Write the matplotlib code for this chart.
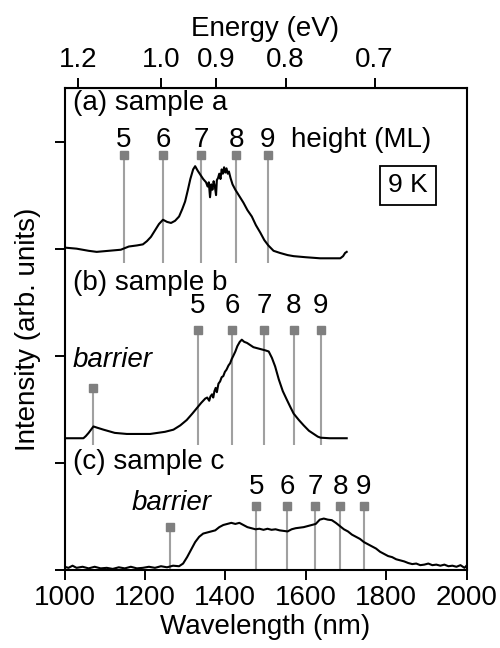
import numpy as np
import matplotlib.pyplot as plt

plt.rcParams['font.family'] = ['Liberation Sans', 'DejaVu Sans']

# spectra (wavelength nm, intensity offset-stacked)
wl_a = [1000, 1030, 1060, 1080, 1110, 1140, 1160, 1180, 1195, 1205, 1215, 1225, 1235, 1245,
        1255, 1265, 1275, 1285, 1293, 1300, 1307, 1313, 1320, 1325, 1331, 1338, 1345, 1352,
        1356, 1359, 1362, 1365, 1368, 1371, 1374, 1377, 1379, 1382, 1385, 1388, 1391, 1394,
        1397, 1400, 1403, 1406, 1409, 1413, 1418, 1425, 1435, 1445, 1455, 1466, 1476, 1487,
        1497, 1507, 1520, 1536, 1555, 1570, 1600, 1636, 1686, 1693, 1698, 1702]
int_a = [3.01, 3.00, 2.98, 2.97, 2.98, 2.99, 3.02, 3.03, 3.04, 3.07, 3.11, 3.17, 3.23, 3.27,
         3.25, 3.24, 3.26, 3.30, 3.37, 3.44, 3.55, 3.65, 3.74, 3.77, 3.73, 3.69, 3.65, 3.62,
         3.58, 3.62, 3.48, 3.60, 3.55, 3.63, 3.58, 3.50, 3.64, 3.66, 3.70, 3.65, 3.74, 3.70,
         3.76, 3.71, 3.75, 3.70, 3.72, 3.66, 3.60, 3.55, 3.49, 3.43, 3.36, 3.30, 3.22, 3.15,
         3.08, 3.03, 2.98, 2.96, 2.94, 2.93, 2.92, 2.91, 2.91, 2.93, 2.96, 2.97]

wl_b = [1000, 1047, 1053, 1060, 1066, 1072, 1080, 1097, 1125, 1155, 1213, 1250, 1271, 1288,
        1304, 1318, 1329, 1340, 1350, 1355, 1360, 1363, 1367, 1370, 1373, 1376, 1379, 1383,
        1387, 1391, 1395, 1399, 1403, 1408, 1412, 1416, 1420, 1425, 1430, 1436, 1441, 1447,
        1454, 1462, 1470, 1480, 1490, 1500, 1508, 1516, 1524, 1533, 1543, 1553, 1562, 1570,
        1583, 1595, 1608, 1620, 1630, 1637, 1660, 1702]
int_b = [1.23, 1.23, 1.25, 1.28, 1.31, 1.34, 1.33, 1.31, 1.28, 1.27, 1.27, 1.29, 1.31, 1.35,
         1.40, 1.46, 1.51, 1.56, 1.60, 1.61, 1.58, 1.62, 1.64, 1.61, 1.67, 1.70, 1.66, 1.74,
         1.76, 1.80, 1.81, 1.85, 1.87, 1.91, 1.93, 1.97, 2.00, 2.04, 2.09, 2.13, 2.15, 2.13,
         2.12, 2.10, 2.08, 2.07, 2.06, 2.05, 2.04, 1.98, 1.90, 1.78, 1.67, 1.59, 1.52, 1.46,
         1.40, 1.35, 1.30, 1.27, 1.245, 1.235, 1.23, 1.23]

wl_c = [1000, 1010, 1020, 1030, 1045, 1060, 1075, 1090, 1105, 1120, 1135, 1150, 1165, 1180,
        1195, 1210, 1225, 1240, 1255, 1270, 1285, 1295, 1305, 1315, 1325, 1335, 1345, 1355,
        1365, 1375, 1385, 1395, 1405, 1415, 1425, 1435, 1445, 1455, 1465, 1475, 1485, 1495,
        1505, 1515, 1525, 1535, 1545, 1555, 1565, 1575, 1585, 1595, 1605, 1615, 1625, 1635,
        1645, 1655, 1665, 1675, 1685, 1695, 1705, 1715, 1725, 1735, 1745, 1755, 1765, 1775,
        1785, 1795, 1805, 1815, 1825, 1835, 1845, 1855, 1865, 1875, 1885, 1895, 1905, 1915,
        1925, 1935, 1945, 1955, 1965, 1975, 1985, 1995, 2000]
int_c = [0.03, 0.02, 0.04, 0.02, 0.03, 0.015, 0.03, 0.015, 0.02, 0.01, 0.025, 0.015, 0.03, 0.015,
         0.02, 0.03, 0.02, 0.035, 0.025, 0.04, 0.035, 0.06, 0.12, 0.19, 0.26, 0.31, 0.34, 0.35,
         0.36, 0.37, 0.40, 0.42, 0.43, 0.44, 0.43, 0.44, 0.42, 0.40, 0.39, 0.38, 0.385, 0.375,
         0.385, 0.375, 0.38, 0.37, 0.365, 0.36, 0.38, 0.39, 0.395, 0.40, 0.41, 0.42, 0.43, 0.47,
         0.48, 0.47, 0.465, 0.44, 0.41, 0.38, 0.36, 0.33, 0.31, 0.29, 0.26, 0.24, 0.22, 0.20,
         0.17, 0.15, 0.13, 0.12, 0.10, 0.09, 0.08, 0.065, 0.055, 0.06, 0.045, 0.05, 0.06, 0.045,
         0.05, 0.04, 0.05, 0.035, 0.04, 0.03, 0.045, 0.02, 0.04]

# height (ML) marker positions in nm
ml_labels = ['5', '6', '7', '8', '9']
marks_a = [1147, 1246, 1340, 1427, 1506]
marks_b = [1331, 1417, 1497, 1570, 1637]
marks_c = [1477, 1554, 1624, 1686, 1745]
barrier_b = 1072
barrier_c = 1262

energy_ticks = [1.2, 1.0, 0.9, 0.8, 0.7]
wl_ticks = [1000, 1200, 1400, 1600, 1800, 2000]

HC = 1239.84
LINE_C = '#a0a0a0'
MARK_C = '#7f7f7f'
FS = 20

fig = plt.figure(figsize=(5, 6.48), dpi=100)
ax = fig.add_axes([0.129, 0.1204, 0.804, 0.7438])

def markers(xs, top, bottom):
    ax.vlines(xs, bottom, top, color=LINE_C, lw=1.5, zorder=1)
    ax.plot(xs, [top] * len(xs), 's', color=MARK_C, ms=5.5, zorder=2)

# (a)
markers(marks_a, 3.875, 2.87)
for x, lab in zip(marks_a, ml_labels):
    ax.text(x, 4.01, lab, fontsize=FS, ha='center', va='center')
ax.text(1564, 4.01, 'height (ML)', fontsize=FS, ha='left', va='center')
ax.text(1021, 4.36, '(a) sample a', fontsize=FS, ha='left', va='center')

# (b)
markers(marks_b, 2.24, 1.17)
markers([barrier_b], 1.70, 1.17)
for x, lab in zip(marks_b, ml_labels):
    ax.text(x, 2.46, lab, fontsize=FS, ha='center', va='center')
ax.text(1019, 1.96, 'barrier', fontsize=FS, ha='left', va='center', style='italic')
ax.text(1021, 2.68, '(b) sample b', fontsize=FS, ha='left', va='center')

# (c)
markers(marks_c, 0.60, 0.01)
markers([barrier_c], 0.40, 0.01)
for x, lab in zip(marks_c, ml_labels):
    ax.text(x, 0.775, lab, fontsize=FS, ha='center', va='center')
ax.text(1267, 0.625, 'barrier', fontsize=FS, ha='center', va='center', style='italic')
ax.text(1021, 1.01, '(c) sample c', fontsize=FS, ha='left', va='center')

for wl, it in [(wl_a, int_a), (wl_b, int_b), (wl_c, int_c)]:
    ax.plot(wl, it, color='black', lw=1.5, zorder=3)

ax.text(1854, 3.59, '9 K', fontsize=19, ha='center', va='center',
        bbox=dict(boxstyle='square,pad=0.3', facecolor='white', edgecolor='black', lw=1.3))

ax.set_xlim(1000, 2000)
ax.set_ylim(0, 4.5)
ax.set_xticks(wl_ticks)
ax.set_yticks([0, 1, 2, 3, 4])
ax.set_yticklabels([])
ax.tick_params(direction='out', length=7, width=1.4, labelsize=FS, pad=4)
for s in ax.spines.values():
    s.set_linewidth(1.5)
ax.set_xlabel('Wavelength (nm)', fontsize=FS, labelpad=2)
ax.set_ylabel('Intensity (arb. units)', fontsize=FS, labelpad=6)

top = ax.secondary_xaxis('top', functions=(lambda w: HC / np.asarray(w, dtype=float),
                                           lambda e: HC / np.asarray(e, dtype=float)))
top.set_xticks(energy_ticks)
top.set_xticklabels(['%.1f' % e for e in energy_ticks])
top.tick_params(direction='out', length=7, width=1.4, labelsize=FS, pad=4)
top.set_xlabel('Energy (eV)', fontsize=FS, labelpad=8)

fig.savefig('out.png', dpi=100)
